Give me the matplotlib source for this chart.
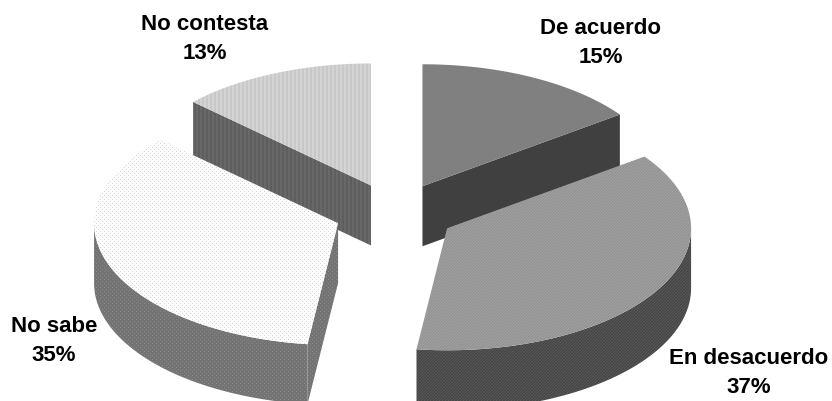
import numpy as np
import matplotlib
matplotlib.use("Agg")
import matplotlib.pyplot as plt
from matplotlib.patches import Polygon

categorias = ["De acuerdo", "En desacuerdo", "No sabe", "No contesta"]
valores = [15, 37, 35, 13]

# centro y tamano de la torta, en pixeles
cx, cy = 395, 214
rx, ry = 244, 122
alto = 60
sep_x, sep_y = 60.5, 30

# color de arriba, color 2 de la textura, color del lado, color 2 del lado, tipo
estilos = [
    ("#808080", "#808080", "#404040", "#404040", "liso"),
    ("#949494", "#a2a2a2", "#484848", "#585858", "diag"),
    ("#fdfdfd", "#d8d8d8", "#747474", "#868686", "puntos"),
    ("#c8c8c8", "#d4d4d4", "#5e5e5e", "#686868", "rayas"),
]
pos_texto = [(601, 43), (749, 373), (54, 341), (205, 39)]

fig = plt.figure(figsize=(8.32, 4.02), dpi=100)
ax = fig.add_axes([0, 0, 1, 1])
ax.set_xlim(0, 832)
ax.set_ylim(402, 0)
ax.axis("off")

yy, xx = np.mgrid[0:402, 0:832]


def textura(tipo, c1, c2):
    if tipo == "rayas":
        m = xx % 4 < 2
    elif tipo == "diag":
        m = (xx + yy) % 3 == 0
    elif tipo == "puntos":
        m = (xx % 4 == 0) & (yy % 4 == 0) | (xx % 4 == 2) & (yy % 4 == 2)
    else:
        m = np.zeros(xx.shape, dtype=bool)
    img = np.zeros(xx.shape + (3,))
    img[~m] = matplotlib.colors.to_rgb(c1)
    img[m] = matplotlib.colors.to_rgb(c2)
    return img


def pintar(puntos, tipo, c1, c2, z):
    p = Polygon(puntos, closed=True, facecolor="none", edgecolor="none", zorder=z)
    ax.add_patch(p)
    im = ax.imshow(textura(tipo, c1, c2), extent=(0, 832, 402, 0), aspect="auto",
                   interpolation="nearest", zorder=z)
    im.set_clip_path(p)


def punto(x0, y0, ang):
    return x0 + rx * np.sin(ang), y0 - ry * np.cos(ang)


total = sum(valores)
ini = 0
rebanadas = []
for v in valores:
    fin = ini + v / total * 2 * np.pi
    rebanadas.append((ini, fin))
    ini = fin

# primero las de atras, despues las de adelante
orden = [3, 0, 2, 1]
for n, i in enumerate(orden):
    a, b = rebanadas[i]
    med = (a + b) / 2
    x0 = cx + sep_x * np.sin(med)
    y0 = cy - sep_y * np.cos(med)
    arriba, arriba2, lado, lado2, tipo = estilos[i]
    z = 2 + n * 3

    # cortes rectos que se ven de frente
    for ang, visible in ((a, np.sin(a) < -1e-6), (b, np.sin(b) > 1e-6)):
        if visible:
            px, py = punto(x0, y0, ang)
            pintar([(x0, y0), (px, py), (px, py + alto), (x0, y0 + alto)],
                   tipo, lado, lado2, z)

    # pared curva de adelante
    t0, t1 = max(a, np.pi / 2), min(b, 3 * np.pi / 2)
    if t1 > t0:
        t = np.linspace(t0, t1, 120)
        ex, ey = punto(x0, y0, t)
        pared = list(zip(ex, ey)) + list(zip(ex[::-1], ey[::-1] + alto))
        pintar(pared, tipo, lado, lado2, z + 1)

    # tapa
    t = np.linspace(a, b, 200)
    ex, ey = punto(x0, y0, t)
    pintar([(x0, y0)] + list(zip(ex, ey)), tipo, arriba, arriba2, z + 2)

for nombre, v, (tx, ty) in zip(categorias, valores, pos_texto):
    ax.text(tx, ty, f"{nombre}\n{v}%", ha="center", va="center", fontsize=16,
            fontweight="bold", family="Liberation Sans", linespacing=1.47,
            color="black", zorder=50)

ax.set_xlim(0, 832)
ax.set_ylim(402, 0)
fig.savefig("out.png", dpi=100, facecolor="white")
